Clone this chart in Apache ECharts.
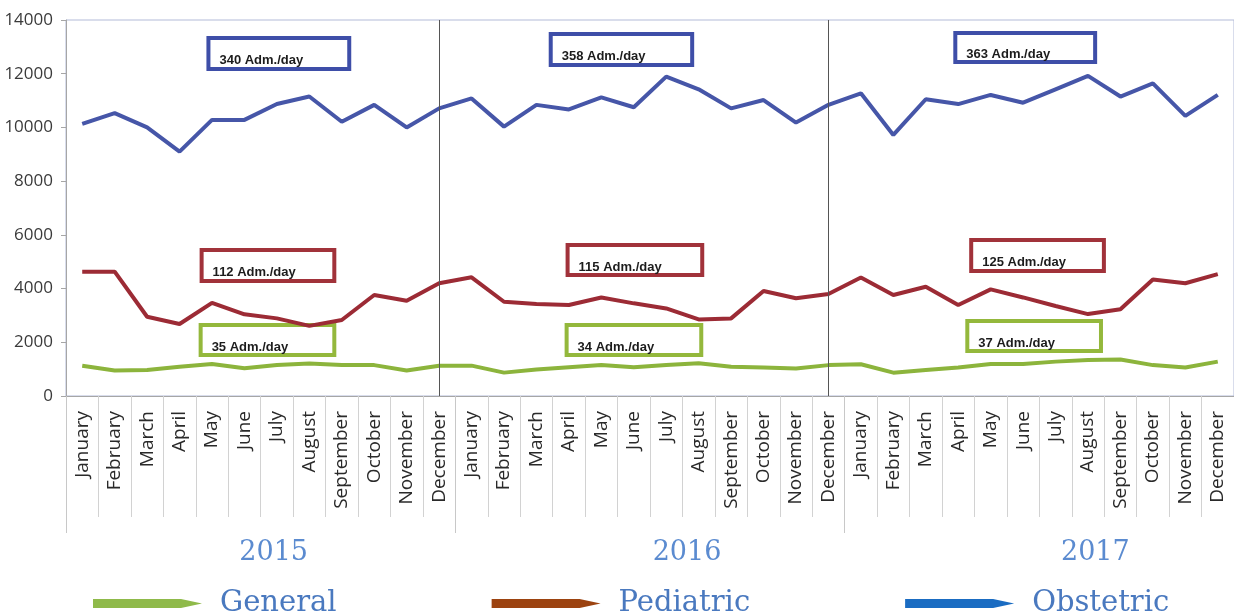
<!DOCTYPE html>
<html>
<head>
<meta charset="utf-8">
<script src="https://cdn.jsdelivr.net/npm/echarts@6/dist/echarts.min.js"></script>
<style>
  html, body { margin: 0; padding: 0; background: #ffffff; }
  #chart { width: 1234px; height: 611px; }
</style>
</head>
<body>
<div id="chart"></div>
<script>
// Monthly admissions by ward, 2015-2017
const months = ['January', 'February', 'March', 'April', 'May', 'June', 'July',
  'August', 'September', 'October', 'November', 'December'];
const years = ['2015', '2016', '2017'];
const categories = [...months, ...months, ...months];

const general = [1130, 950, 970, 1090, 1190, 1030, 1150, 1210, 1150, 1150, 950, 1130,
  1130, 870, 990, 1070, 1150, 1070, 1150, 1220, 1090, 1060, 1020, 1150,
  1180, 870, 970, 1060, 1190, 1190, 1280, 1340, 1360, 1150, 1060, 1280];
const pediatric = [4630, 4630, 2950, 2680, 3470, 3040, 2890, 2610, 2830, 3760, 3550, 4200,
  4420, 3510, 3430, 3390, 3670, 3450, 3260, 2850, 2890, 3910, 3640, 3800,
  4410, 3760, 4070, 3390, 3970, 3670, 3350, 3050, 3230, 4340, 4200, 4540];
const obstetric = [10130, 10530, 10000, 9100, 10280, 10280, 10870, 11150, 10210, 10840, 10000, 10710,
  11080, 10030, 10840, 10670, 11120, 10750, 11890, 11420, 10710, 11020, 10180, 10840,
  11270, 9720, 11050, 10870, 11210, 10920, 11420, 11920, 11150, 11640, 10430, 11210];

// Yearly mean admissions per day
const generalPerDay = [35, 34, 37];
const pediatricPerDay = [112, 115, 125];
const obstetricPerDay = [340, 358, 363];

const seriesNames = ['General', 'Pediatric', 'Obstetric'];
const yTicks = { min: 0, max: 14000, interval: 2000 };

const GRID = { left: 66, top: 20, width: 1171.5, height: 376 };

// Framed per-day notes; corners given as [month index, admissions] on a
// continuous copy of the month axis so a frame can start between months.
function perDayFrames(rates, corners, border) {
  return {
    type: 'line',
    xAxisIndex: 2,
    yAxisIndex: 2,
    data: [],
    silent: true,
    markArea: {
      silent: true,
      itemStyle: { color: 'rgba(0,0,0,0)', borderColor: border, borderWidth: 4 },
      label: {
        show: true,
        position: 'insideLeft',
        distance: 13,
        offset: [0, 7],
        color: '#1c1c1c',
        fontFamily: 'Liberation Sans',
        fontWeight: 'bold',
        fontSize: 13
      },
      data: rates.map((r, i) => [
        { name: r + ' Adm./day', coord: corners[i][0] },
        { coord: corners[i][1] }
      ])
    }
  };
}

const chart = echarts.init(document.getElementById('chart'), null, { renderer: 'canvas' });

chart.setOption({
  animation: false,
  backgroundColor: '#ffffff',
  grid: [
    Object.assign({ show: true, borderColor: '#b3bbd8', borderWidth: 1, backgroundColor: 'rgba(0,0,0,0)' }, GRID),
    Object.assign({ show: false }, GRID),
    Object.assign({ show: false }, GRID)
  ],
  legend: {
    left: 88,
    top: 584,
    itemWidth: 109,
    itemHeight: 9,
    itemGap: 155,
    selectedMode: false,
    icon: 'path://M0,0L88,0L109,4.5L88,9L0,9Z',
    textStyle: { fontFamily: 'DejaVu Serif', fontSize: 29, color: '#4a79bf', padding: [0, 0, 0, 13] },
    data: [
      { name: seriesNames[0], itemStyle: { color: '#8fba4a' } },
      { name: seriesNames[1], itemStyle: { color: '#9c4310' } },
      { name: seriesNames[2], itemStyle: { color: '#1a6cc2' } }
    ]
  },
  xAxis: [
    {
      type: 'category',
      gridIndex: 0,
      data: categories,
      boundaryGap: true,
      axisLine: { lineStyle: { color: '#a6a6a6', width: 1 } },
      axisTick: { show: true, interval: 0, length: 121, lineStyle: { color: '#d2d2d2' } },
      axisLabel: {
        interval: 0,
        rotate: 90,
        margin: 15,
        fontFamily: 'Open Sans',
        fontSize: 19,
        color: '#2a2a2a'
      },
      splitLine: { show: false }
    },
    {
      type: 'category',
      gridIndex: 1,
      position: 'bottom',
      data: years,
      boundaryGap: true,
      axisLine: { show: false },
      axisTick: { show: true, interval: 0, length: 137, lineStyle: { color: '#c8c8c8' } },
      axisLabel: {
        interval: 0,
        margin: 143,
        formatter: (v, i) => '{y' + i + '|' + v + '}',
        rich: {
          y0: { fontFamily: 'DejaVu Serif', fontSize: 27, color: '#5b8bd0', padding: [0, 0, 0, 26] },
          y1: { fontFamily: 'DejaVu Serif', fontSize: 27, color: '#5b8bd0', padding: [0, 0, 0, 74] },
          y2: { fontFamily: 'DejaVu Serif', fontSize: 27, color: '#5b8bd0', padding: [0, 0, 0, 112] }
        }
      }
    },
    {
      type: 'value',
      gridIndex: 2,
      min: -0.5,
      max: categories.length - 0.5,
      show: false
    }
  ],
  yAxis: [
    {
      type: 'value',
      gridIndex: 0,
      min: yTicks.min,
      max: yTicks.max,
      interval: yTicks.interval,
      axisLine: { show: true, lineStyle: { color: '#a6a6a6' } },
      axisTick: { show: true, length: 5, lineStyle: { color: '#a6a6a6' } },
      axisLabel: {
        margin: 13,
        fontFamily: 'Open Sans',
        fontSize: 17,
        color: '#3a3a3a',
        formatter: (v) => String(v)
      },
      splitLine: { show: false }
    },
    { type: 'value', gridIndex: 1, show: false },
    { type: 'value', gridIndex: 2, min: yTicks.min, max: yTicks.max, show: false }
  ],
  series: [
    {
      name: seriesNames[0],
      type: 'line',
      data: general,
      symbol: 'none',
      lineStyle: { color: '#8cb43c', width: 4 },
      itemStyle: { color: '#8cb43c' },
      z: 3
    },
    {
      name: seriesNames[1],
      type: 'line',
      data: pediatric,
      symbol: 'none',
      lineStyle: { color: '#9c2b35', width: 4 },
      itemStyle: { color: '#9c2b35' },
      z: 2
    },
    {
      name: seriesNames[2],
      type: 'line',
      data: obstetric,
      symbol: 'none',
      lineStyle: { color: '#4656a8', width: 4 },
      itemStyle: { color: '#4656a8' },
      z: 2,
      // year dividers through each December
      markLine: {
        silent: true,
        symbol: 'none',
        label: { show: false },
        lineStyle: { color: '#555555', width: 1, type: 'solid' },
        data: [{ xAxis: 11 }, { xAxis: 23 }]
      }
    },
    perDayFrames(obstetricPerDay, [
      [[3.89, 13330], [8.23, 12176]],
      [[14.44, 13479], [18.80, 12325]],
      [[26.91, 13516], [31.22, 12436]]
    ], '#3e4ea8'),
    perDayFrames(pediatricPerDay, [
      [[3.68, 5436], [7.77, 4282]],
      [[14.96, 5622], [19.11, 4505]],
      [[27.40, 5809], [31.49, 4654]]
    ], '#a1323a'),
    perDayFrames(generalPerDay, [
      [[3.65, 2644], [7.77, 1527]],
      [[14.93, 2644], [19.08, 1527]],
      [[27.28, 2793], [31.40, 1676]]
    ], '#94b83c')
  ]
});
</script>
</body>
</html>
